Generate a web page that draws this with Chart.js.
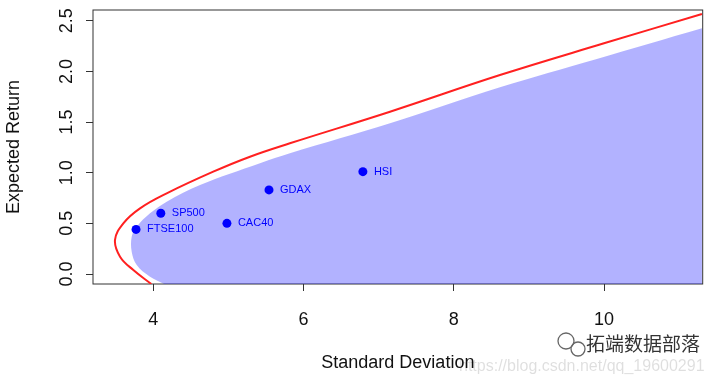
<!DOCTYPE html>
<html>
<head>
<meta charset="utf-8">
<script src="https://cdn.jsdelivr.net/npm/chart.js@4"></script>
<style>
  html, body { margin: 0; padding: 0; background: #fff; }
</style>
</head>
<body>
<canvas id="frontierChart" width="708" height="375"></canvas>
<script>
// individual assets
const assetNames = ['FTSE100', 'SP500', 'CAC40', 'GDAX', 'HSI'];
const assetSd = [3.77, 4.10, 4.98, 5.54, 6.79];
const assetRet = [0.44, 0.60, 0.50, 0.83, 1.01];

// efficient frontier (red line), read along the curve from the bottom edge
const frontierSd = [3.973, 3.734, 3.557, 3.490, 3.601, 3.823, 4.178, 4.798, 5.287, 5.818, 7.151, 8.615, 10.0, 11.304];
const frontierRet = [-0.099, 0.039, 0.171, 0.336, 0.500, 0.648, 0.796, 1.010, 1.158, 1.290, 1.602, 1.964, 2.277, 2.566];

// random portfolio cloud (blue area) outline, closed at the bottom right corner
const cloudSd = [4.145, 3.956, 3.779, 3.712, 3.712, 3.779, 3.956, 4.178, 4.622, 5.420, 5.818, 7.151, 8.615, 9.893, 11.304, 11.304, 11.304];
const cloudRet = [-0.099, -0.027, 0.089, 0.220, 0.368, 0.467, 0.599, 0.714, 0.878, 1.093, 1.191, 1.487, 1.843, 2.120, 2.425, 2.425, -0.099];

const xTicks = [4, 6, 8, 10];
const xTickLabels = ['4', '6', '8', '10'];
const yTicks = [0, 0.5, 1, 1.5, 2, 2.5];
const yTickLabels = ['0.0', '0.5', '1.0', '1.5', '2.0', '2.5'];

const toPoints = (xs, ys) => xs.map((x, i) => ({ x: x, y: ys[i] }));
const axisFont = { family: '"Liberation Sans", Arial, sans-serif', size: 18 };

const boxPlugin = {
  id: 'box',
  beforeDatasetsDraw(chart) {
    const a = chart.chartArea;
    const ctx = chart.ctx;
    ctx.save();
    ctx.strokeStyle = '#333';
    ctx.lineWidth = 1;
    ctx.strokeRect(a.left, a.top, a.right - a.left, a.bottom - a.top);
    ctx.restore();
  }
};

const labelPlugin = {
  id: 'assetLabels',
  afterDatasetsDraw(chart) {
    const ctx = chart.ctx;
    const meta = chart.getDatasetMeta(0);
    ctx.save();
    ctx.font = '11px "Liberation Sans", Arial, sans-serif';
    ctx.fillStyle = '#0000ff';
    ctx.textBaseline = 'middle';
    meta.data.forEach((pt, i) => {
      ctx.fillText(assetNames[i], pt.x + 11, pt.y);
    });
    ctx.restore();
  }
};

const watermarkPlugin = {
  id: 'watermark',
  afterDraw(chart) {
    const ctx = chart.ctx;
    ctx.save();
    ctx.strokeStyle = '#666';
    ctx.lineWidth = 1.3;
    ctx.beginPath();
    ctx.arc(566, 341, 8, 0, Math.PI * 2);
    ctx.stroke();
    ctx.beginPath();
    ctx.arc(578, 349, 7, 0, Math.PI * 2);
    ctx.stroke();
    ctx.fillStyle = '#333';
    ctx.font = '19px "Noto Sans CJK SC", sans-serif';
    ctx.textBaseline = 'middle';
    ctx.fillText('拓端数据部落', 586, 344);
    ctx.fillStyle = 'rgba(0,0,0,0.13)';
    ctx.font = '16px "Liberation Sans", Arial, sans-serif';
    ctx.fillText('https://blog.csdn.net/qq_19600291', 459, 367);
    ctx.restore();
  }
};

new Chart(document.getElementById('frontierChart'), {
  type: 'scatter',
  data: {
    datasets: [
      {
        label: 'Assets',
        data: toPoints(assetSd, assetRet),
        backgroundColor: '#0000ff',
        borderWidth: 0,
        pointRadius: 4.5,
        pointHoverRadius: 4.5
      },
      {
        label: 'Frontier',
        data: toPoints(frontierSd, frontierRet),
        showLine: true,
        borderColor: '#ff2020',
        borderWidth: 2,
        pointRadius: 0,
        tension: 0.4,
        fill: false
      },
      {
        label: 'Portfolios',
        data: toPoints(cloudSd, cloudRet),
        showLine: true,
        borderWidth: 0,
        borderColor: 'rgba(0,0,0,0)',
        backgroundColor: 'rgba(0,0,255,0.3)',
        pointRadius: 0,
        tension: 0.35,
        fill: 'shape'
      }
    ]
  },
  options: {
    responsive: false,
    animation: false,
    devicePixelRatio: 1,
    layout: { padding: { top: 10, right: 5.3, left: 0, bottom: 0 } },
    plugins: {
      legend: { display: false },
      tooltip: { enabled: false }
    },
    scales: {
      x: {
        type: 'linear',
        min: 3.197,
        max: 11.314,
        afterBuildTicks: s => { s.ticks = xTicks.map(v => ({ value: v })); },
        afterFit: s => { s.height = 91; s.paddingLeft = 0; s.paddingRight = 0; },
        grid: { drawOnChartArea: false, drawTicks: true, tickLength: 7, tickColor: '#333' },
        border: { display: false },
        ticks: {
          color: '#111',
          font: axisFont,
          padding: 18,
          maxRotation: 0,
          callback: (v, i) => xTickLabels[i]
        },
        title: {
          display: true,
          text: 'Standard Deviation',
          color: '#111',
          font: axisFont,
          padding: { top: 0, bottom: 1 }
        }
      },
      y: {
        type: 'linear',
        min: -0.0987,
        max: 2.606,
        afterBuildTicks: s => { s.ticks = yTicks.map(v => ({ value: v })); },
        afterFit: s => { s.width = 93; s.paddingTop = 0; s.paddingBottom = 0; },
        grid: { drawOnChartArea: false, drawTicks: true, tickLength: 7, tickColor: '#333' },
        border: { display: false },
        ticks: {
          color: '#111',
          font: axisFont,
          padding: 6,
          minRotation: 90,
          maxRotation: 90,
          crossAlign: 'center',
          callback: (v, i) => yTickLabels[i]
        },
        title: {
          display: true,
          text: 'Expected Return',
          color: '#111',
          font: axisFont,
          padding: { top: 3, bottom: 0 }
        }
      }
    }
  },
  plugins: [boxPlugin, labelPlugin, watermarkPlugin]
});
</script>
</body>
</html>
